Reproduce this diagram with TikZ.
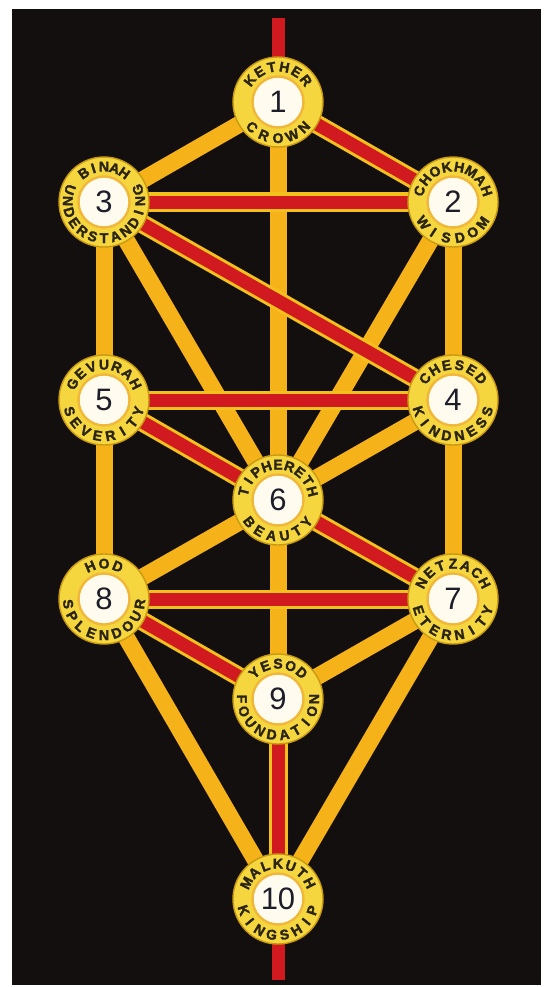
\documentclass[tikz,border=0pt]{standalone}
\usepackage{fontspec}
\setmainfont{Liberation Sans}
\newfontfamily\sefletters[FakeBold=2]{Liberation Sans Bold}
\definecolor{bgblack}{HTML}{140F0F}
\definecolor{pathorange}{HTML}{F6B219}
\definecolor{pathred}{HTML}{D01A1F}
\definecolor{redborder}{HTML}{F4C01E}
\definecolor{sefyellow}{HTML}{F5D63F}
\definecolor{sefedge}{HTML}{C89A12}
\definecolor{corewhite}{HTML}{FFFCEF}
\definecolor{ringorange}{HTML}{F1B73A}
\definecolor{numdark}{HTML}{1E1E2A}
\definecolor{letterdark}{HTML}{2A2412}
\pgfdeclarelayer{bgl}
\pgfdeclarelayer{links}
\pgfsetlayers{bgl,links,main}
\tikzset{
  sef/.style={circle, minimum size=90pt, inner sep=0pt, fill=sefyellow, draw=sefedge, line width=1.4pt},
  core/.style={circle, minimum size=51pt, inner sep=0pt, fill=corewhite, draw=ringorange, line width=2.4pt,
    font=\fontsize{31}{31}\selectfont, text=numdark},
  pathO/.style={line width=17pt, draw=pathorange},
  pathR/.style={draw=redborder, double=pathred, double distance=13pt, line width=3pt},
  pathRplain/.style={line width=13pt, draw=pathred},
  lettr/.style={font=\sefletters\fontsize{14}{14}\selectfont, text=letterdark, inner sep=0pt, anchor=base},
}
% #1 name, #2 position, #3 number, #4 top letters, #5 top step, #6 bottom letters, #7 bottom step
\newcommand{\sefira}[7]{%
  \node[sef] (#1) at #2 {};
  \node[core] (#1n) at #2 {#3};
  \foreach \c [count=\k] in {#4} {\xdef\ntop{\k}}
  \foreach \c [count=\k] in {#4} {
    \pgfmathsetmacro\ang{90+((\ntop+1)/2-\k)*#5}
    \path (#1) ++(\ang:30.5pt) node[lettr, rotate=\ang-90, name=#1t\k] {\c};
  }
  \foreach \c [count=\k] in {#6} {\xdef\nbot{\k}}
  \foreach \c [count=\k] in {#6} {
    \pgfmathsetmacro\ang{270-((\nbot+1)/2-\k)*#7}
    \path (#1) ++(\ang:41pt) node[lettr, rotate=\ang+90, name=#1b\k] {\c};
  }
}
\begin{document}
\begin{tikzpicture}[x=1pt,y=1pt]
\begin{pgfonlayer}{bgl}
  \fill[white] (0,0) rectangle (545,-987);
  \fill[bgblack] (12,-9) rectangle (541,-985);
\end{pgfonlayer}
\useasboundingbox (0,0) rectangle (545,-987);

\sefira{s1}{(278,-102)}{1}{K,E,T,H,E,R}{21}{C,R,O,W,N}{23}
\sefira{s2}{(453,-202)}{2}{C,H,O,K,H,M,A,H}{20.5}{W,I,S,D,O,M}{22}
\sefira{s3}{(104,-202)}{3}{B,I,N,A,H}{17.5}{U,N,D,E,R,S,T,A,N,D,I,N,G}{18.3}
\sefira{s4}{(453,-400)}{4}{C,H,E,S,E,D}{21}{K,I,N,D,N,E,S,S}{20.5}
\sefira{s5}{(104,-400)}{5}{G,E,V,U,R,A,H}{21}{S,E,V,E,R,I,T,Y}{20.5}
\sefira{s6}{(278,-500)}{6}{T,I,P,H,E,R,E,T,H}{19}{B,E,A,U,T,Y}{21}
\sefira{s7}{(453,-599)}{7}{N,E,T,Z,A,C,H}{21}{E,T,E,R,N,I,T,Y}{20.5}
\sefira{s8}{(104,-599)}{8}{H,O,D}{23}{S,P,L,E,N,D,O,U,R}{20.5}
\sefira{s9}{(278,-699)}{9}{Y,E,S,O,D}{21}{F,O,U,N,D,A,T,I,O,N}{20}
\sefira{s10}{(278,-899)}{10}{M,A,L,K,U,T,H}{21}{K,I,N,G,S,H,I,P}{20.5}

\coordinate (top) at (278,-18);
\coordinate (bot) at (278,-980);

\begin{pgfonlayer}{links}
  \foreach \a/\b in {s1/s3, s1/s6, s2/s4, s2/s6, s3/s5, s3/s6, s4/s6, s4/s7,
                     s5/s8, s6/s8, s6/s9, s7/s9, s7/s10, s8/s10}
    \draw[pathO] (\a.center) -- (\b.center);
  \foreach \a/\b in {s1/s2, s2/s3, s3/s4, s4/s5, s5/s6, s6/s7, s7/s8, s8/s9, s9/s10}
    \draw[pathR] (\a.center) -- (\b.center);
  \draw[pathRplain] (top) -- (s1.center);
  \draw[pathRplain] (s10.center) -- (bot);
\end{pgfonlayer}
\end{tikzpicture}
\end{document}
